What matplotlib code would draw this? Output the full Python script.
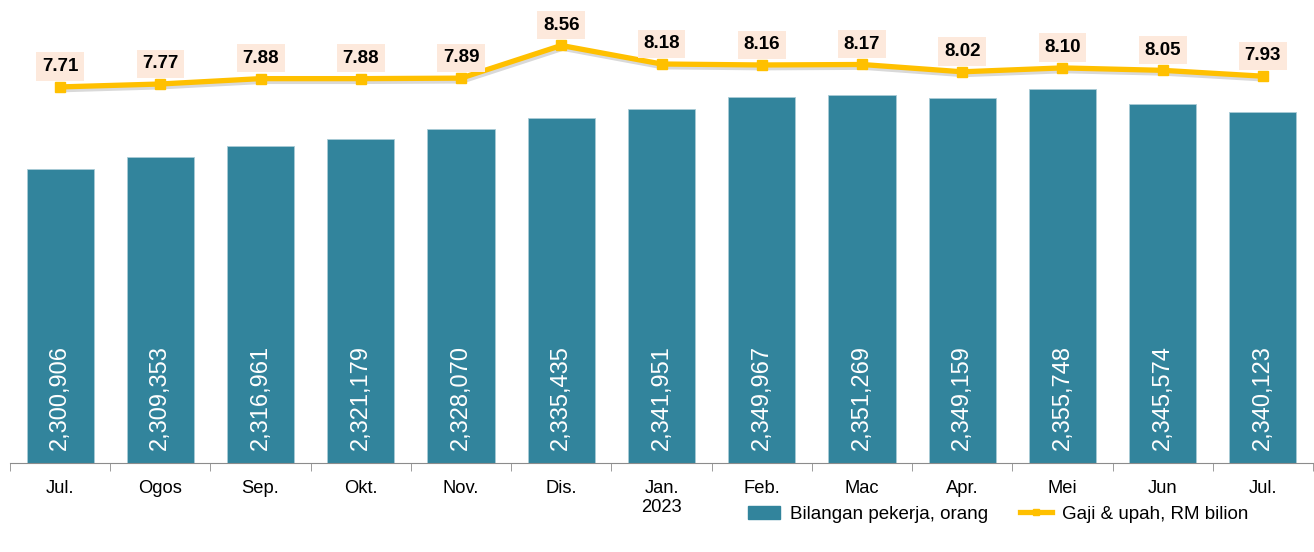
import numpy as np
import matplotlib.pyplot as plt
import matplotlib.patheffects as pe
from matplotlib.lines import Line2D
from matplotlib.patches import Patch

plt.rcParams['font.family'] = ['Liberation Sans', 'DejaVu Sans']

months = ['Jul.', 'Ogos', 'Sep.', 'Okt.', 'Nov.', 'Dis.', 'Jan.\n2023',
          'Feb.', 'Mac', 'Apr.', 'Mei', 'Jun', 'Jul.']
workers = [2300906, 2309353, 2316961, 2321179, 2328070, 2335435, 2341951,
           2349967, 2351269, 2349159, 2355748, 2345574, 2340123]
wages = [7.71, 7.77, 7.88, 7.88, 7.89, 8.56, 8.18, 8.16, 8.17, 8.02, 8.10, 8.05, 7.93]

bar_color = '#32849c'
line_color = '#ffc000'

fig = plt.figure(figsize=(13.14, 5.52), dpi=100)
ax1 = fig.add_axes([10 / 1314, 1 - 463 / 552, 1303 / 1314, 439 / 552])
x = np.arange(len(months))

# bars for number of workers
ax1.bar(x, workers, width=0.67, color=bar_color, edgecolor='#a9cbd6', linewidth=0.6)
ax1.set_ylim(2100000, 2400000)
ax1.set_xlim(-0.5, len(months) - 0.5)
for xi, v in zip(x, workers):
    ax1.text(xi, 2100000 + 9000, f'{v:,}', rotation=90, ha='center', va='bottom',
             color='white', fontsize=17)

for s in ['top', 'left', 'right']:
    ax1.spines[s].set_visible(False)
ax1.spines['bottom'].set_color('#8c8c8c')
ax1.set_yticks([])
ax1.set_xticks(x)
ax1.set_xticklabels(months, fontsize=13.2, linespacing=1.15)
ax1.tick_params(axis='x', which='major', length=0, pad=12)
ax1.set_xticks(np.arange(-0.5, len(months)), minor=True)
ax1.tick_params(axis='x', which='minor', length=6, color='#8c8c8c', direction='out')

# line for wages
ax2 = ax1.twinx()
ax2.plot(x, wages, color=line_color, linewidth=3.8, solid_capstyle='butt', zorder=3,
         path_effects=[pe.SimpleLineShadow(offset=(1, -2), alpha=0.15), pe.Normal()])
ax2.plot(x, wages, linestyle='none', marker='s', markersize=7, color=line_color, zorder=4)
ax2.set_ylim(0, 9)
ax2.set_yticks([])
for s in ['top', 'left', 'right', 'bottom']:
    ax2.spines[s].set_visible(False)
for xi, v in zip(x, wages):
    ax2.annotate(f'{v:.2f}', (xi, v), xytext=(0, 8.5), textcoords='offset points',
                 ha='center', va='bottom', fontsize=13.5, fontweight='bold',
                 bbox=dict(boxstyle='square,pad=0.3', fc='#fde9dc', ec='none'))

handles = [Patch(color=bar_color, label='Bilangan pekerja, orang'),
           Line2D([], [], color=line_color, linewidth=3.8, marker='s', markersize=5,
                  label='Gaji & upah, RM bilion')]
fig.legend(handles=handles, loc='center right', bbox_to_anchor=(0.963, 0.068),
           ncol=2, frameon=False, fontsize=13.5, handlelength=1.7, handletextpad=0.55,
           columnspacing=1.7)

plt.savefig('out.png', dpi=100)
